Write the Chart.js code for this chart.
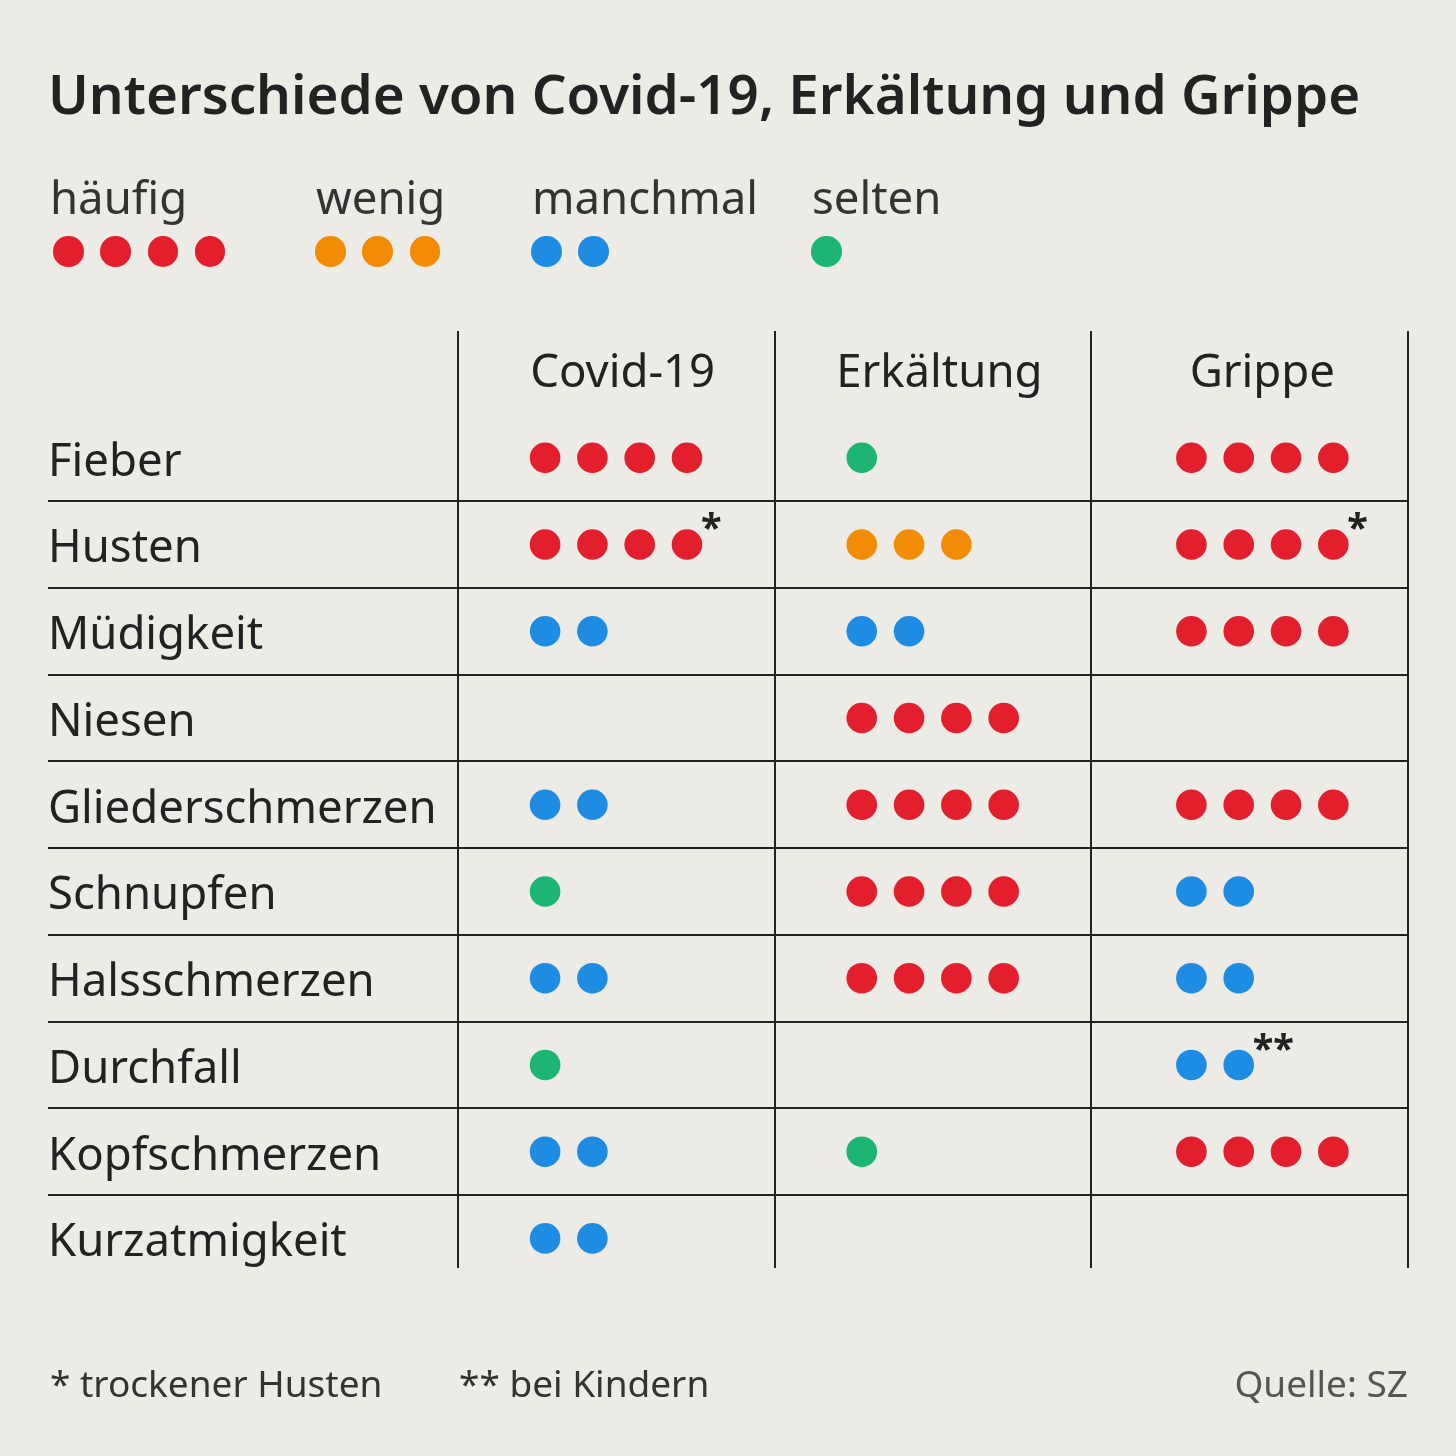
<!DOCTYPE html>
<html lang="de">
<head>
<meta charset="UTF-8">
<title>Unterschiede von Covid-19, Erkältung und Grippe</title>
<script src="https://cdn.jsdelivr.net/npm/chart.js"></script>
<style>
    body { margin: 0; background: #ecebe6; font-family: 'Noto Sans', sans-serif; color: #222; }
    .page { position: relative; width: 1456px; height: 1456px; overflow: hidden; }
    canvas { position: absolute; left: 0; top: 0; }
    h1 { position: absolute; left: 48px; top: 58px; margin: 0; font-size: 54.7px; line-height: 70px; font-weight: 600; color: #222; white-space: nowrap; }
    .legend-item { position: absolute; top: 166px; }
    .legend-label { font-size: 45.5px; line-height: 60px; color: #333; white-space: nowrap; }
    .legend-dots { display: flex; gap: 16.7px; margin-top: 10px; }
    .dot { width: 30.6px; height: 30.6px; border-radius: 50%; }
    .foot { position: absolute; top: 1356px; font-size: 37px; line-height: 54px; color: #333; white-space: nowrap; }
</style>
</head>
<body>
<div class="page">
    <canvas id="table" width="1456" height="1456"></canvas>
    <h1>Unterschiede von Covid-19, Erkältung und Grippe</h1>
    <div id="legend"></div>
    <div class="foot" style="left:50px">* trockener Husten</div>
    <div class="foot" style="left:459px">** bei Kindern</div>
    <div class="foot" style="right:48px; color:#555">Quelle: SZ</div>
</div>

<script>
    // Spalten und Zeilen
    const diseases = ['Covid-19', 'Erkältung', 'Grippe'];
    const symptoms = ['Fieber', 'Husten', 'Müdigkeit', 'Niesen', 'Gliederschmerzen',
        'Schnupfen', 'Halsschmerzen', 'Durchfall', 'Kopfschmerzen', 'Kurzatmigkeit'];

    // 4 = häufig, 3 = wenig, 2 = manchmal, 1 = selten, 0 = keine Angabe
    const covid      = [4, 4, 2, 0, 2, 1, 2, 1, 2, 2];
    const erkaeltung = [1, 3, 2, 4, 4, 4, 4, 0, 1, 0];
    const grippe     = [4, 4, 4, 0, 4, 2, 2, 2, 4, 0];

    // Legende: Stufe -> Name und Farbe
    const levels = [4, 3, 2, 1];
    const levelNames = ['häufig', 'wenig', 'manchmal', 'selten'];
    const levelColors = ['#e31e2d', '#f28c05', '#1e8ce3', '#1db574'];

    // Fußnoten-Sternchen: [Symptom, Krankheit, Zeichen]
    const notes = [
        ['Husten', 'Covid-19', '*'],
        ['Husten', 'Grippe', '*'],
        ['Durchfall', 'Grippe', '**']
    ];

    const values = [covid, erkaeltung, grippe];
    const dotStart = [0.275, 0.275, 0.316];
    const dotStep = 0.1494;

    // Legende aufbauen
    const legendEl = document.getElementById('legend');
    const legendLeft = [50, 316, 532, 812];
    const legendDotShift = [3, -1, -1, -1];
    levels.forEach((lv, k) => {
        const item = document.createElement('div');
        item.className = 'legend-item';
        item.style.left = legendLeft[k] + 'px';
        let dots = '';
        for (let i = 0; i < lv; i++) dots += `<div class="dot" style="background:${levelColors[k]}"></div>`;
        item.innerHTML = `<div class="legend-label">${levelNames[k]}</div>` +
            `<div class="legend-dots" style="margin-left:${legendDotShift[k]}px">${dots}</div>`;
        legendEl.appendChild(item);
    });

    // Datensätze: ein Datensatz pro Stufe
    const datasets = levels.map((lv, k) => {
        const pts = [];
        values.forEach((col, c) => {
            col.forEach((v, r) => {
                if (v !== lv) return;
                for (let i = 0; i < v; i++) pts.push({ x: c + dotStart[c] + i * dotStep, y: r });
            });
        });
        return {
            label: levelNames[k],
            data: pts,
            pointRadius: 15.3,
            pointHoverRadius: 15.3,
            pointBackgroundColor: levelColors[k],
            pointBorderWidth: 0,
            showLine: false
        };
    });

    const textPlugin = {
        id: 'tableText',
        afterDatasetsDraw(chart) {
            const { ctx, scales: { x, y } } = chart;
            ctx.save();
            ctx.fillStyle = '#222';
            // Zeilenbeschriftung
            ctx.font = '45.5px "Noto Sans"';
            ctx.textAlign = 'left';
            ctx.textBaseline = 'alphabetic';
            symptoms.forEach((s, r) => {
                ctx.fillText(s, x.left, y.getPixelForValue(r) + 18);
            });
            // Spaltenköpfe
            ctx.textAlign = 'center';
            ctx.textBaseline = 'middle';
            diseases.forEach((d, c) => {
                ctx.fillText(d, x.getPixelForValue(c + 0.5 + (c === 2 ? 0.04 : 0.02)), y.getPixelForValue(-0.97));
            });
            // Sternchen
            ctx.font = 'bold 38px "Noto Sans"';
            ctx.textAlign = 'left';
            notes.forEach(([s, d, mark]) => {
                const r = symptoms.indexOf(s), c = diseases.indexOf(d);
                const n = values[c][r];
                const px = x.getPixelForValue(c + dotStart[c] + (n - 1) * dotStep) + 14;
                ctx.fillText(mark, px, y.getPixelForValue(r) - 14);
            });
            ctx.restore();
        }
    };

    new Chart(document.getElementById('table'), {
        type: 'scatter',
        data: { datasets },
        options: {
            responsive: false,
            animation: false,
            events: [],
            layout: { padding: { left: 48, right: 48, top: 331, bottom: 188 } },
            plugins: { legend: { display: false }, tooltip: { enabled: false } },
            scales: {
                x: {
                    type: 'linear',
                    min: -1.2947,
                    max: 3,
                    afterBuildTicks: axis => { axis.ticks = [0, 1, 2, 3].map(v => ({ value: v })); },
                    ticks: { display: false },
                    grid: { color: '#222', lineWidth: 2, drawTicks: false },
                    border: { display: false }
                },
                y: {
                    type: 'linear',
                    reverse: true,
                    min: -1.461,
                    max: 9.341,
                    afterBuildTicks: axis => { axis.ticks = [0.5, 1.5, 2.5, 3.5, 4.5, 5.5, 6.5, 7.5, 8.5].map(v => ({ value: v })); },
                    ticks: { display: false },
                    grid: { color: '#222', lineWidth: 2, drawTicks: false },
                    border: { display: false }
                }
            }
        },
        plugins: [textPlugin]
    });
</script>
</body>
</html>
